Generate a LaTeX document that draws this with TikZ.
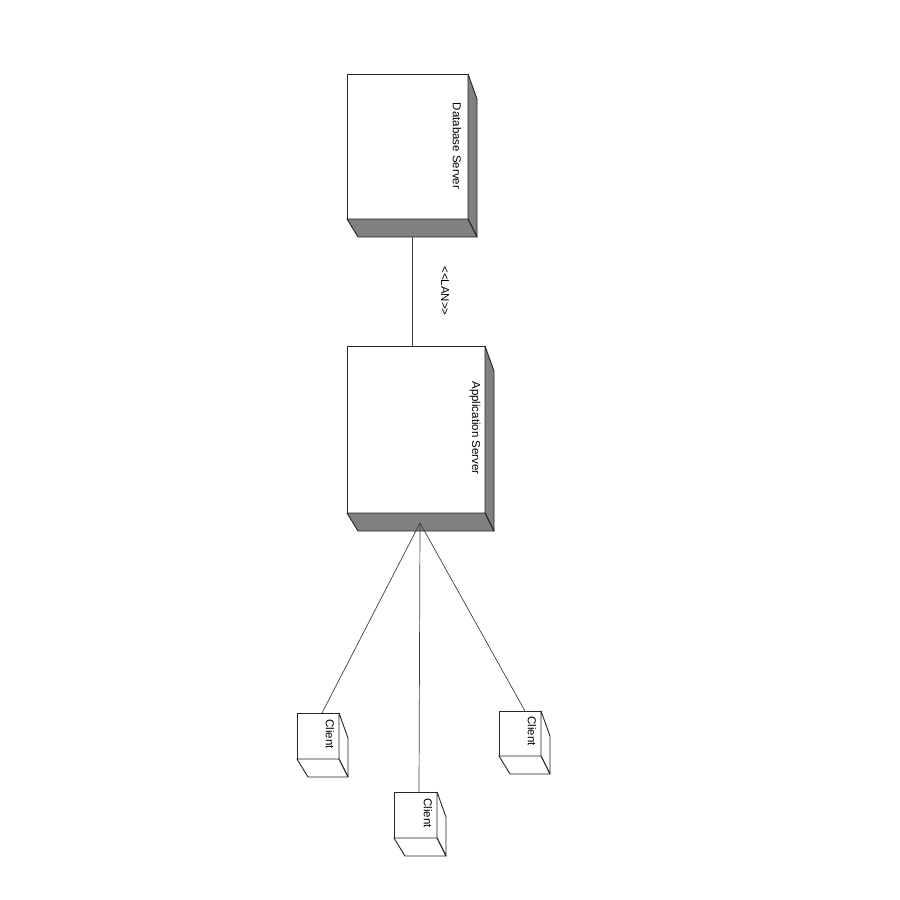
\documentclass[tikz,border=0pt]{standalone}
\usepackage{fontspec}
\setmainfont{Liberation Sans}
\usetikzlibrary{calc}
\tikzset{
  face/.style={draw=black!85, line width=0.9pt, fill=white, inner sep=0pt, outer sep=0pt, anchor=north west},
  shadeface/.style={draw=black!85, line width=0.9pt, fill=black!50, line join=round},
  plainface/.style={draw=black!85, line width=0.9pt, fill=white, line join=round},
  lbl/.style={rotate=-90, font=\fontsize{11.5}{13}\selectfont, inner sep=0pt},
  link/.style={draw=black!75, line width=0.7pt}
}
\newcommand\boxsides[2]{%
  \draw[#2] (#1.north east) -- ++(9,25) -- ($(#1.south east)+(9,18)$) -- (#1.south east) -- cycle;
  \draw[#2] (#1.south west) -- ++(11,18) -- ($(#1.south east)+(9,18)$) -- (#1.south east) -- cycle;
}
\begin{document}
\begin{tikzpicture}[x=1pt,y=-1pt]
\useasboundingbox[fill=white] (0,0) rectangle (900,900);
% servers
\node[face, minimum width=121pt, minimum height=145pt] (db) at (347,74) {};
\boxsides{db}{shadeface}
\node[face, minimum width=138pt, minimum height=167pt] (app) at (347,346) {};
\boxsides{app}{shadeface}
% clients
\node[face, minimum width=42pt, minimum height=46pt] (c1) at (297,713) {};
\boxsides{c1}{plainface}
\node[face, minimum width=43pt, minimum height=46pt] (c2) at (394,792) {};
\boxsides{c2}{plainface}
\node[face, minimum width=42pt, minimum height=45pt] (c3) at (499,711) {};
\boxsides{c3}{plainface}
% labels
\node[lbl] (dbl) at (457,146) {Database Server};
\node[lbl] (appl) at (475,428) {Application Server};
\node[lbl] (c1l) at (330,734) {Client};
\node[lbl] (c2l) at (428,813) {Client};
\node[lbl] (c3l) at (532,731) {Client};
% connectors
\coordinate (dbb) at (412,237);
\draw[link] (dbb) -- (dbb |- app.north);
\node[lbl] (lan) at (445,291) {<{}<LAN>{}>};
\coordinate (apx) at (420,523);
\draw[link] (apx) -- ([xshift=4pt]c1.north);
\draw[link] (apx) -- ([xshift=3.5pt]c2.north);
\draw[link] (apx) -- ([xshift=5pt]c3.north);
\end{tikzpicture}
\end{document}
